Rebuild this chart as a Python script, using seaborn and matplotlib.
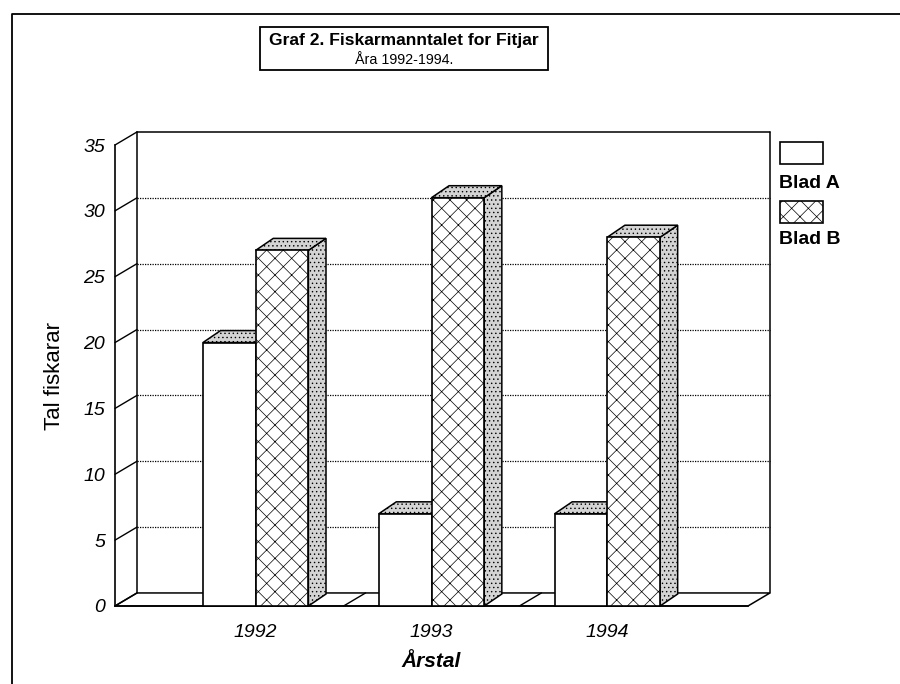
import pandas as pd
import matplotlib
matplotlib.use("Agg")
import matplotlib.pyplot as plt
import seaborn as sns
from matplotlib.patches import Polygon, Rectangle
from matplotlib.lines import Line2D

# Data
years = ["1992", "1993", "1994"]
blad_a = [20, 7, 7]
blad_b = [27, 31, 28]
series = ["Blad A", "Blad B"]

df = pd.DataFrame({
    "Årstal": years * 2,
    "Tal fiskarar": blad_a + blad_b,
    "Blad": [series[0]] * 3 + [series[1]] * 3,
})

sns.set_style("white")
plt.rcParams.update({
    "font.family": ["Liberation Sans", "DejaVu Sans"],
    "hatch.linewidth": 0.5,
    "text.color": "black",
    "axes.labelcolor": "black",
    "xtick.color": "black",
    "ytick.color": "black",
})

fig = plt.figure(figsize=(9, 6.84), dpi=100)
W, H = 900, 684
ax = fig.add_axes([115 / W, (H - 606) / H, (748 - 115) / W, (606 - 145) / H])

sns.barplot(data=df, x="Årstal", y="Tal fiskarar", hue="Blad",
            palette=["white", "white"], saturation=1, width=0.6,
            edgecolor="black", linewidth=1.2, legend=False, ax=ax)
bars = list(ax.patches)

xmin, xmax = -0.8, 2.8
ymax = 35
ax.set_xlim(xmin, xmax)
ax.set_ylim(0, ymax)

# djupn paa bakvegg og soyler (dataeiningar)
dx, dy = 0.125, 0.99
bdx, bdy = 0.10, 0.91

# golv
ax.add_patch(Polygon([(xmin, 0), (xmax, 0), (xmax + dx, dy), (xmin + dx, dy)],
                     closed=True, facecolor="white", edgecolor="black",
                     linewidth=1.1, clip_on=False, zorder=1))
# bakvegg
for xs, ys in [([xmin + dx, xmin + dx], [dy, ymax + dy]),
               ([xmin + dx, xmax + dx], [ymax + dy, ymax + dy]),
               ([xmax + dx, xmax + dx], [dy, ymax + dy])]:
    ax.add_line(Line2D(xs, ys, color="black", lw=1.1, clip_on=False, zorder=1))

# prikka rutenett og skraa strekar
for v in range(0, ymax + 1, 5):
    ax.add_line(Line2D([xmin, xmin + dx], [v, v + dy], color="black", lw=1.0,
                       clip_on=False, zorder=1))
    if 0 < v < ymax:
        ax.add_line(Line2D([xmin + dx, xmax + dx], [v + dy, v + dy], color="black",
                           lw=0.9, linestyle=(0, (1, 1)), clip_on=False, zorder=1.2))
for xb in [0.5, 1.5]:
    ax.add_line(Line2D([xb, xb + dx], [0, dy], color="black", lw=1.0,
                       clip_on=False, zorder=1.1))

# 3D-sider paa soylene
order = sorted(range(len(bars)), key=lambda i: bars[i].get_x())
for k, i in enumerate(order):
    b = bars[i]
    x0, w, h = b.get_x(), b.get_width(), b.get_height()
    top = Polygon([(x0, h), (x0 + w, h), (x0 + w + bdx, h + bdy), (x0 + bdx, h + bdy)],
                  closed=True, facecolor="#d4d4d4", edgecolor="black", hatch="....",
                  linewidth=1.1, zorder=2 + 2 * k, clip_on=False)
    side = Polygon([(x0 + w, 0), (x0 + w + bdx, bdy), (x0 + w + bdx, h + bdy), (x0 + w, h)],
                   closed=True, facecolor="#d4d4d4", edgecolor="black", hatch="....",
                   linewidth=1.1, zorder=2 + 2 * k, clip_on=False)
    ax.add_patch(side)
    ax.add_patch(top)
    b.set_zorder(3 + 2 * k)
    b.set_clip_on(False)
    if i >= len(years):
        b.set_hatch("xx")

# akser
for s in ["top", "right"]:
    ax.spines[s].set_visible(False)
ax.spines["left"].set_linewidth(1.2)
ax.spines["left"].set_color("black")
ax.spines["bottom"].set_linewidth(1.2)
ax.spines["bottom"].set_color("black")
ax.spines["left"].set_zorder(20)
ax.set_yticks(range(0, ymax + 1, 5))
ax.tick_params(axis="y", direction="out", length=6, width=1.1, labelsize=14, pad=1)
for t in ax.get_yticklabels():
    t.set_style("italic")
ax.set_xticks([0, 1, 2])
ax.set_xticklabels(years, fontsize=14, style="italic")
ax.tick_params(axis="x", which="major", length=0, pad=13)
ax.set_xticks([xmin, 0.5, 1.5, xmax], minor=True)
ax.tick_params(axis="x", which="minor", direction="out", length=8, width=1.1)
ax.set_ylabel("Tal fiskarar", fontsize=16, labelpad=13)
ax.set_xlabel("Årstal", fontsize=15, fontweight="bold", style="italic", labelpad=8)

# tittelboks
fig.add_artist(Rectangle((260 / W, 1 - 70 / H), 288 / W, 43 / H, transform=fig.transFigure,
                         facecolor="white", edgecolor="black", linewidth=1.3))
fig.text(404 / W, 1 - 41 / H, "Graf 2. Fiskarmanntalet for Fitjar", ha="center", va="center",
         fontsize=12.6, fontweight="bold")
fig.text(404 / W, 1 - 60 / H, "Åra 1992-1994.", ha="center", va="center", fontsize=10.3)

# forklaring
fig.add_artist(Rectangle((780 / W, 1 - 164 / H), 43 / W, 22 / H, transform=fig.transFigure,
                         facecolor="white", edgecolor="black", linewidth=1.2))
fig.text(779 / W, 1 - 183 / H, series[0], ha="left", va="center", fontsize=14, fontweight="bold")
fig.add_artist(Rectangle((780 / W, 1 - 223 / H), 43 / W, 22 / H, transform=fig.transFigure,
                         facecolor="white", edgecolor="black", linewidth=1.2, hatch="xx"))
fig.text(779 / W, 1 - 240 / H, series[1], ha="left", va="center", fontsize=14, fontweight="bold")

# ytre ramme
fig.add_artist(Line2D([12 / W, 12 / W, 1.0], [0, 1 - 14 / H, 1 - 14 / H],
                      transform=fig.transFigure, color="black", lw=1.3))

fig.savefig("out.png", dpi=100, facecolor="white")
